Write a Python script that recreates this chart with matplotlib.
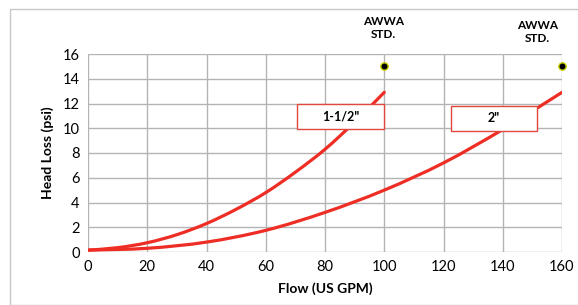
import matplotlib
matplotlib.use("Agg")
import matplotlib.pyplot as plt
from matplotlib.patches import Rectangle, PathPatch
from matplotlib.path import Path
import numpy as np

plt.rcParams['font.family'] = ['Lato', 'DejaVu Sans']

flow_15 = [0, 10, 20, 30, 40, 50, 60, 70, 80, 90, 100]
loss_15 = [0.15, 0.35, 0.75, 1.4, 2.3, 3.45, 4.8, 6.45, 8.3, 10.5, 12.9]
flow_2 = [0, 20, 40, 60, 80, 100, 120, 140, 160]
loss_2 = [0.15, 0.3, 0.8, 1.75, 3.2, 5.0, 7.2, 9.9, 12.9]
std_flow = [100, 160]
std_loss = [15, 15]
xticks = [0, 20, 40, 60, 80, 100, 120, 140, 160]
yticks = [0, 2, 4, 6, 8, 10, 12, 14, 16]


def smooth_path(xs, ys):
    # Catmull-Rom style smoothed line (like a spreadsheet "smoothed line"), as cubic Bezier segments
    pts = np.column_stack([xs, ys]).astype(float)
    verts = [pts[0]]
    codes = [Path.MOVETO]
    n = len(pts)
    for i in range(n - 1):
        p0 = pts[i - 1] if i > 0 else pts[i]
        p1 = pts[i]
        p2 = pts[i + 1]
        p3 = pts[i + 2] if i + 2 < n else pts[i + 1]
        c1 = p1 + (p2 - p0) / 6.0
        c2 = p2 - (p3 - p1) / 6.0
        verts += [c1, c2, p2]
        codes += [Path.CURVE4] * 3
    return Path(verts, codes)


fig = plt.figure(figsize=(5.78, 3.05), dpi=100)
fig.patches.append(Rectangle((10/578, 0), 1.0, 1 - 9/305, transform=fig.transFigure,
                             fill=False, edgecolor='#c8c8c8', linewidth=1.0))
ax = fig.add_axes([88/578, 53/305, 474/578, 198/305])

for xs, ys in [(flow_15, loss_15), (flow_2, loss_2)]:
    ax.add_patch(PathPatch(smooth_path(xs, ys), facecolor='none', edgecolor='#ee2d24', lw=2.3,
                           zorder=3, capstyle='round'))
ax.scatter(std_flow, std_loss, s=28, color='black', edgecolors='#c8d400', linewidths=1.0, zorder=5, clip_on=False)

ax.set_xlim(0, 160)
ax.set_ylim(0, 16)
ax.set_xticks(xticks)
ax.set_yticks(yticks)
ax.grid(True, color='#b4b4b4', lw=1.0)
ax.set_axisbelow(True)
for s in ax.spines.values():
    s.set_visible(False)
ax.tick_params(length=0, labelsize=10.5, pad=6)
ax.set_xlabel('Flow (US GPM)', fontsize=10, fontweight='bold', labelpad=6)
ax.set_ylabel('Head Loss (psi)', fontsize=10, fontweight='bold', labelpad=6)

# label boxes
for (x0, x1, y0, y1, txt) in [(70.5, 100, 9.95, 12.0, '1-1/2"'), (122.5, 151.6, 9.8, 11.8, '2"')]:
    ax.add_patch(Rectangle((x0, y0), x1 - x0, y1 - y0, facecolor='white', edgecolor='#e0473e', lw=1.0, zorder=4))
    ax.text((x0 + x1) / 2, (y0 + y1) / 2, txt, ha='center', va='center', fontsize=9, fontweight='bold', zorder=6)

ax.text(99.6, 18.1, 'AWWA\nSTD.', ha='center', va='center', fontsize=8.5, fontweight='bold', clip_on=False, linespacing=1.2)
ax.text(151.6, 17.8, 'AWWA\nSTD.', ha='center', va='center', fontsize=8.5, fontweight='bold', clip_on=False, linespacing=1.2)

fig.savefig('out.png', dpi=100)
